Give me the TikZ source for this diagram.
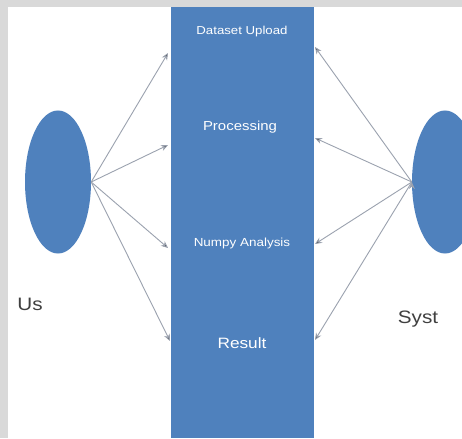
\documentclass[tikz,border=0pt]{standalone}
\usepackage{fontspec}
\setmainfont{Liberation Sans}
\newfontfamily\widefont[FakeStretch=1.15]{Liberation Sans}
\usetikzlibrary{arrows.meta,shapes.geometric}
\definecolor{barblue}{RGB}{79,129,189}
\definecolor{edgegray}{RGB}{155,162,175}
\definecolor{framegray}{RGB}{217,217,217}

\begin{document}
\begin{tikzpicture}[x=1pt,y=-1pt,
    actor/.style={ellipse,fill=barblue,minimum width=66pt,minimum height=143pt,inner sep=0pt},
    stagelabel/.style={text=white,inner sep=1pt},
    actorlabel/.style={text=black!75,inner sep=1pt,font=\widefont\fontsize{18}{20}\selectfont},
    flow/.style={-{Stealth[length=7pt,width=6pt]},draw=edgegray,line width=0.9pt}]
    \useasboundingbox (0,0) rectangle (462,438);
    \clip (0,0) rectangle (462,438);
    \fill[framegray] (0,0) rectangle (462,438);
    \fill[white] (8,7) rectangle (462,438);

    % the pipeline bar and its stages
    \node[fill=barblue,minimum width=143pt,minimum height=431pt,inner sep=0pt] (pipeline) at (242.5,222.5) {};
    \node[stagelabel,font=\widefont\fontsize{11.5}{13}\selectfont] (upload) at (242,32) {Dataset Upload};
    \node[stagelabel,font=\widefont\fontsize{13}{15}\selectfont] (processing) at (240,127) {Processing};
    \node[stagelabel,font=\widefont\fontsize{11.7}{13}\selectfont] (numpy) at (242,243) {Numpy Analysis};
    \node[stagelabel,font=\widefont\fontsize{15}{17}\selectfont] (result) at (242,343) {Result};

    % actors
    \node[actor] (user) at (58,182) {};
    \node[actor] (system) at (445,182) {};
    \node[actorlabel] (userlabel) at (30,304) {Us};
    \node[actorlabel] (systemlabel) at (418,319) {Syst};

    % arrow ends on the bar
    \coordinate (uploadL) at (168,53);
    \coordinate (processingL) at (168,145);
    \coordinate (numpyL) at (168,248);
    \coordinate (resultL) at (170,341);
    \coordinate (uploadR) at (315,47);
    \coordinate (processingR) at (315,138);
    \coordinate (numpyR) at (315,244);
    \coordinate (resultR) at (315,340);

    \path[flow]
        (user.east) edge (uploadL)
        (user.east) edge (processingL)
        (user.east) edge (numpyL)
        (user.east) edge (resultL)
        (system.west) edge (uploadR)
        (system.west) edge (processingR)
        (system.west) edge (numpyR)
        (system.west) edge (resultR);
\end{tikzpicture}
\end{document}
